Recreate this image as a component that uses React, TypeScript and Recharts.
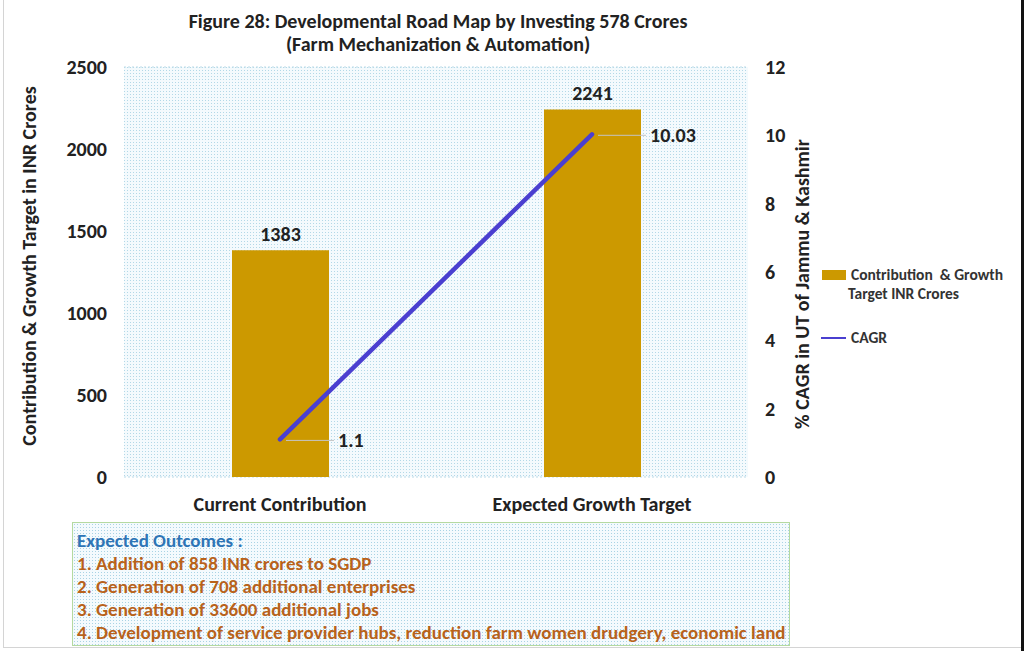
import React from 'react';
import { ComposedChart, Bar, Line, XAxis, YAxis, CartesianGrid, LabelList } from 'recharts';

const CATEGORIES = ['Current Contribution', 'Expected Growth Target'];
const CONTRIBUTION = [1383, 2241];
const CAGR = [1.1, 10.03];
const LEFT_TICKS = [0, 500, 1000, 1500, 2000, 2500];
const RIGHT_TICKS = [0, 2, 4, 6, 8, 10, 12];
const OUTCOMES = [
  '1. Addition of 858 INR crores to SGDP',
  '2. Generation of 708 additional enterprises',
  '3. Generation of 33600 additional jobs',
  '4. Development of service provider hubs, reduction farm women drudgery, economic land',
];

const data = CATEGORIES.map((name, i) => ({ name, value: CONTRIBUTION[i], cagr: CAGR[i] }));

const FONT = "Carlito, 'Liberation Sans Narrow', 'Open Sans', sans-serif";
const GOLD = '#cc9900';
const LINE = '#4a3fd0';
const TXT = { fontSize: 20, fontWeight: 'bold', fill: '#222', fontFamily: FONT };

const dotBg = {
  backgroundColor: '#f4fafd',
  backgroundImage: 'radial-gradient(#a9d3e4 0.7px, transparent 0.8px)',
  backgroundSize: '3px 3px',
};

const CagrLabel = (props: any) => {
  const { x, y, value } = props;
  return (
    <g>
      <line x1={x + 6} y1={y + 1} x2={x + 54} y2={y + 1} stroke="#c4c4c4" strokeWidth={1} />
      <text x={x + 58} y={y + 8} {...TXT}>
        {value}
      </text>
    </g>
  );
};

export default function App() {
  return (
    <div
      style={{
        position: 'fixed',
        left: 0,
        top: 0,
        width: 1024,
        height: 651,
        background: '#fff',
        fontFamily: FONT,
        overflow: 'hidden',
      }}
    >
      <div style={{ position: 'absolute', left: 3, top: 0, width: 1, height: 648, background: '#d4d4d4' }} />
      <div style={{ position: 'absolute', left: 3, top: 647, width: 1018, height: 1, background: '#d4d4d4' }} />
      <div style={{ position: 'absolute', left: 1021, top: 0, width: 3, height: 651, background: '#111' }} />

      <div
        style={{
          position: 'absolute',
          left: 0,
          width: 876,
          top: 10,
          textAlign: 'center',
          fontSize: 20,
          fontWeight: 'bold',
          color: '#222',
          lineHeight: '23px',
        }}
      >
        Figure 28: Developmental Road Map by Investing 578 Crores
        <br />
        (Farm Mechanization &amp; Automation)
      </div>

      <ComposedChart
        width={1024}
        height={651}
        data={data}
        margin={{ top: 67, right: 216, bottom: 144, left: 64 }}
        style={{ position: 'absolute', left: 0, top: 0 }}
      >
        <defs>
          <pattern id="dots" width="3" height="3" patternUnits="userSpaceOnUse">
            <rect width="3" height="3" fill="#f4fafd" />
            <rect x="1" y="1" width="1" height="1" fill="#b3d8e7" />
          </pattern>
        </defs>
        <CartesianGrid fill="url(#dots)" vertical={false} stroke="#bcdbe8" strokeDasharray="2 2" />
        <XAxis
          dataKey="name"
          axisLine={false}
          tickLine={false}
          tickSize={0}
          tickMargin={20}
          height={30}
          tick={TXT}
        />
        <YAxis
          yAxisId="left"
          domain={[0, 2500]}
          ticks={LEFT_TICKS}
          axisLine={false}
          tickLine={false}
          tickSize={0}
          tickMargin={17}
          width={60}
          tick={TXT}
          label={{
            value: 'Contribution & Growth Target in INR Crores',
            angle: -90,
            position: 'insideLeft',
            dx: -40,
            dy: -6,
            style: { ...TXT, textAnchor: 'middle' },
          }}
        />
        <YAxis
          yAxisId="right"
          orientation="right"
          domain={[0, 12]}
          ticks={RIGHT_TICKS}
          axisLine={false}
          tickLine={false}
          tickSize={0}
          tickMargin={17}
          width={60}
          tick={TXT}
          label={{
            value: '% CAGR in UT of Jammu & Kashmir',
            angle: -90,
            position: 'insideRight',
            dx: -1,
            dy: 12,
            style: { ...TXT, textAnchor: 'middle' },
          }}
        />
        <Bar yAxisId="left" dataKey="value" fill={GOLD} barSize={97} isAnimationActive={false}>
          <LabelList dataKey="value" position="top" offset={9} style={TXT} />
        </Bar>
        <Line
          yAxisId="right"
          dataKey="cagr"
          stroke={LINE}
          strokeWidth={4.5}
          strokeLinecap="round"
          dot={false}
          activeDot={false}
          isAnimationActive={false}
        >
          <LabelList dataKey="cagr" content={<CagrLabel />} />
        </Line>
      </ComposedChart>

      {/* legend */}
      <div style={{ position: 'absolute', left: 821, top: 265, fontSize: 15.5, fontWeight: 'bold', color: '#333', lineHeight: '19px' }}>
        <span style={{ position: 'absolute', left: 1, top: 5, width: 24, height: 10, background: GOLD }} />
        <div style={{ position: 'absolute', left: 30, top: 0, whiteSpace: 'nowrap' }}>
          Contribution &nbsp;&amp; Growth
          <br />
          <span style={{ marginLeft: -3 }}>Target INR Crores</span>
        </div>
        <span style={{ position: 'absolute', left: 0, top: 72, width: 25, height: 2, background: LINE }} />
        <span style={{ position: 'absolute', left: 30, top: 63, whiteSpace: 'nowrap' }}>CAGR</span>
      </div>

      <div
        style={{
          position: 'absolute',
          left: 72,
          top: 522,
          width: 718,
          height: 124,
          border: '1.5px solid #b5d9a0',
          boxSizing: 'border-box',
          padding: '6px 0 0 4px',
          fontSize: 19,
          fontWeight: 'bold',
          lineHeight: '23px',
          ...dotBg,
        }}
      >
        <div style={{ color: '#2e75b6' }}>Expected Outcomes :</div>
        {OUTCOMES.map((t) => (
          <div key={t} style={{ color: '#b8621b', whiteSpace: 'nowrap' }}>
            {t}
          </div>
        ))}
      </div>
    </div>
  );
}
